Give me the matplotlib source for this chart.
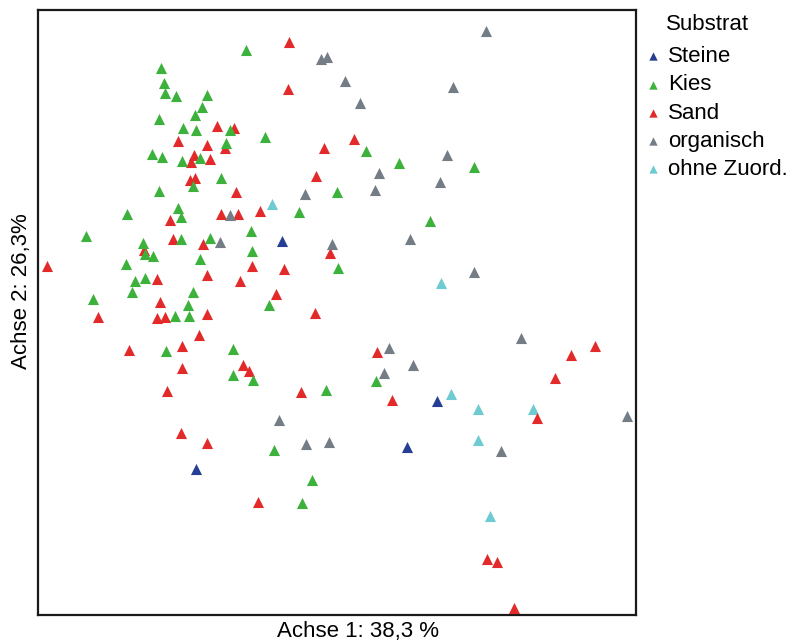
import matplotlib.pyplot as plt

# scores (arbitrary units, y grows downward as read)
steine_x = [282, 437, 407, 196]
steine_y = [241, 401, 447, 469]

ohne_x = [272, 441, 451, 478, 533, 478, 490]
ohne_y = [204, 283, 394, 409, 409, 440, 516]

organisch_x = [321, 327, 345, 360, 486, 453, 447, 440, 379, 375, 305, 230, 220,
               332, 410, 474, 521, 389, 413, 384, 627, 501, 279, 306, 329]
organisch_y = [59, 57, 81, 103, 31, 87, 155, 182, 173, 190, 194, 215, 242,
               244, 239, 272, 338, 348, 365, 373, 416, 451, 420, 444, 442]

kies_x = [246, 161, 164, 165, 176, 207, 202, 195, 159, 183, 196, 230, 265, 226,
          152, 162, 182, 200, 221, 193, 159, 178, 181, 127, 299, 366, 399, 474,
          337, 430, 86, 143, 145, 153, 126, 181, 210, 251, 252, 200, 135, 145,
          132, 193, 188, 175, 189, 93, 269, 338, 166, 233, 233, 253, 326, 376,
          274, 312, 302]
kies_y = [50, 68, 83, 93, 96, 95, 107, 115, 119, 128, 130, 130, 137, 143,
          154, 157, 161, 158, 178, 186, 191, 208, 217, 214, 212, 151, 163, 167,
          192, 221, 236, 243, 254, 256, 264, 239, 238, 231, 251, 259, 281, 278,
          292, 292, 305, 316, 316, 299, 305, 268, 351, 349, 375, 380, 390, 381,
          450, 480, 503]

sand_x = [289, 288, 217, 234, 178, 207, 225, 194, 191, 210, 190, 195, 236, 324,
          354, 316, 260, 221, 238, 170, 173, 203, 144, 47, 157, 207, 240, 252,
          284, 330, 276, 160, 157, 165, 207, 315, 98, 199, 182, 129, 182, 243,
          249, 167, 301, 377, 392, 181, 207, 258, 595, 571, 555, 537, 487, 497,
          514]
sand_y = [42, 89, 126, 128, 141, 145, 148, 155, 162, 159, 180, 178, 192, 148,
          139, 176, 211, 214, 214, 220, 239, 244, 250, 266, 279, 275, 281, 266,
          269, 253, 294, 302, 318, 317, 314, 313, 317, 335, 346, 350, 368, 365,
          371, 391, 392, 352, 400, 433, 443, 502, 346, 355, 378, 418, 559, 562,
          608]

plt.rcParams['font.family'] = ['Liberation Sans', 'DejaVu Sans']
fs = 16

fig = plt.figure(figsize=(7.9, 6.44), dpi=100)
ax = fig.add_axes([38/790, 1 - 615/644, 598/790, 605/644])

ms = 64
ax.scatter(ohne_x, ohne_y, marker='^', s=ms, color='#6ecbd1', linewidths=0, label='ohne Zuord.', zorder=2)
ax.scatter(sand_x, sand_y, marker='^', s=ms, color='#e32a2a', linewidths=0, label='Sand', zorder=3)
ax.scatter(kies_x, kies_y, marker='^', s=ms, color='#3cb23c', linewidths=0, label='Kies', zorder=4)
ax.scatter(organisch_x, organisch_y, marker='^', s=ms, color='#747c86', linewidths=0, label='organisch', zorder=5)
ax.scatter(steine_x, steine_y, marker='^', s=ms, color='#263f94', linewidths=0, label='Steine', zorder=6)

ax.set_xlim(38, 636)
ax.set_ylim(615, 10)
ax.set_xticks([])
ax.set_yticks([])
for sp in ax.spines.values():
    sp.set_linewidth(1.6)
    sp.set_color('#1a1a1a')

ax.set_xlabel('Achse 1: 38,3 %', fontsize=fs)
ax.set_ylabel('Achse 2: 26,3%', fontsize=fs)
ax.xaxis.set_label_coords(0.535, -0.01)
ax.yaxis.set_label_coords(-0.01, 0.535)
ax.xaxis.label.set_va('top')
ax.yaxis.label.set_va('bottom')

# legend in the order of the original, title as separate text
h, l = ax.get_legend_handles_labels()
order = ['Steine', 'Kies', 'Sand', 'organisch', 'ohne Zuord.']
hh = [h[l.index(o)] for o in order]
fig.text(666/790, 1 - 24/644, 'Substrat', fontsize=fs, ha='left', va='center')
leg = fig.legend(hh, order, loc='upper left', bbox_to_anchor=(646/790, 1 - 46/644),
                 frameon=False, fontsize=fs, markerscale=0.75,
                 handlelength=0.6, handletextpad=0.4, labelspacing=0.33,
                 borderpad=0, borderaxespad=0)

fig.savefig('out.png', dpi=100)
